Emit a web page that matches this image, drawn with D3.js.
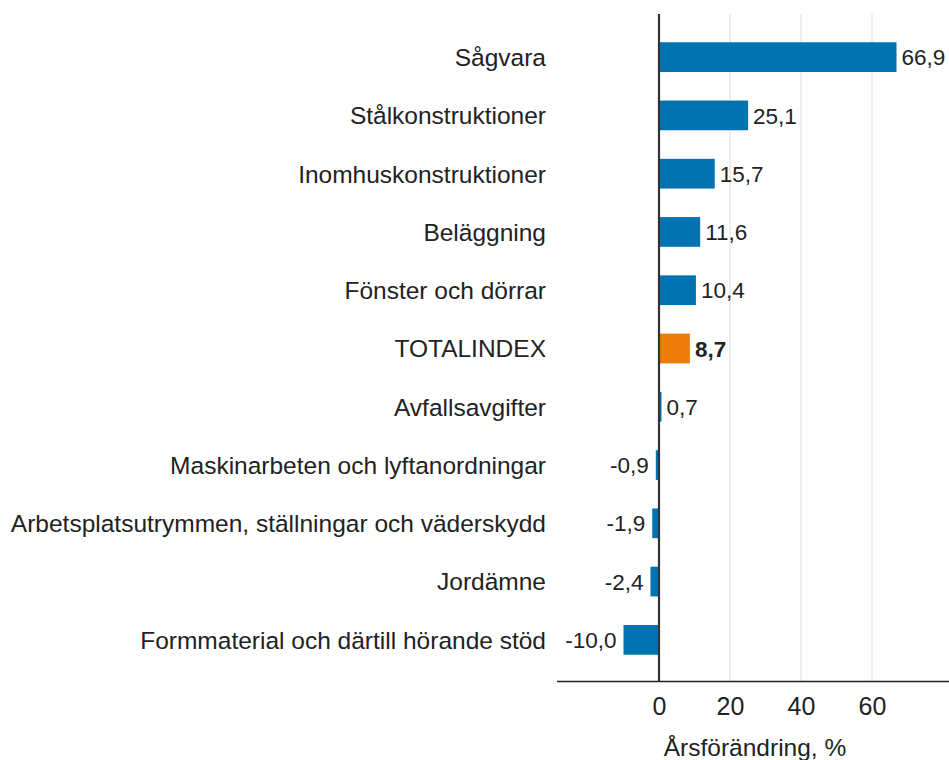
<!DOCTYPE html>
<html>
<head>
<meta charset="utf-8">
<script src="https://cdn.jsdelivr.net/npm/d3@7"></script>
<style>
  html, body { margin: 0; padding: 0; background: #fff; }
  svg { display: block; font-family: "Liberation Sans", Arial, sans-serif; }
</style>
</head>
<body>
<svg id="chart" width="949" height="760"></svg>
<script>
const categories = [
  "Sågvara",
  "Stålkonstruktioner",
  "Inomhuskonstruktioner",
  "Beläggning",
  "Fönster och dörrar",
  "TOTALINDEX",
  "Avfallsavgifter",
  "Maskinarbeten och lyftanordningar",
  "Arbetsplatsutrymmen, ställningar och väderskydd",
  "Jordämne",
  "Formmaterial och därtill hörande stöd"
];
const values = [66.9, 25.1, 15.7, 11.6, 10.4, 8.7, 0.7, -0.9, -1.9, -2.4, -10.0];
const highlight = "TOTALINDEX";
const tickValues = [0, 20, 40, 60];
const axisTitle = "Årsförändring, %";

const svg = d3.select("#chart");
const plotLeft = 557, plotRight = 949, plotTop = 14, plotBottom = 681;

const x = d3.scaleLinear().domain([0, 60]).range([659, 872]);
const y = d3.scaleBand().domain(categories).range([28, 669])
  .paddingInner(0.49).paddingOuter(0.245);

const fmt = v => v.toFixed(1).replace(".", ",");

// gridlines
svg.append("g").selectAll("line")
  .data(tickValues.filter(t => t !== 0))
  .join("line")
  .attr("x1", d => x(d)).attr("x2", d => x(d))
  .attr("y1", plotTop).attr("y2", plotBottom)
  .attr("stroke", "#e3e3e3").attr("stroke-width", 1.2);

// bars
svg.append("g").selectAll("rect")
  .data(categories)
  .join("rect")
  .attr("x", (d, i) => Math.min(x(0), x(values[i])))
  .attr("width", (d, i) => Math.abs(x(values[i]) - x(0)))
  .attr("y", d => y(d))
  .attr("height", y.bandwidth())
  .attr("fill", d => d === highlight ? "#ec7b08" : "#0073b0");

// value labels
svg.append("g").selectAll("text")
  .data(categories)
  .join("text")
  .attr("x", (d, i) => values[i] >= 0 ? x(values[i]) + 5 : x(values[i]) - 7)
  .attr("y", d => y(d) + y.bandwidth() / 2)
  .attr("dy", "0.36em")
  .attr("text-anchor", (d, i) => values[i] >= 0 ? "start" : "end")
  .attr("font-size", 22.5)
  .attr("font-weight", d => d === highlight ? "bold" : "normal")
  .attr("fill", "#222")
  .text((d, i) => fmt(values[i]));

// category labels
svg.append("g").selectAll("text")
  .data(categories)
  .join("text")
  .attr("x", 546)
  .attr("y", d => y(d) + y.bandwidth() / 2)
  .attr("dy", "0.36em")
  .attr("text-anchor", "end")
  .attr("font-size", 24.5)
  .attr("fill", "#222")
  .text(d => d);

// zero line
svg.append("line")
  .attr("x1", x(0)).attr("x2", x(0))
  .attr("y1", plotTop).attr("y2", plotBottom)
  .attr("stroke", "#333").attr("stroke-width", 2.2);

// x axis
const xAxis = d3.axisBottom(x).tickValues(tickValues).tickSize(0).tickPadding(16)
  .tickFormat(d3.format("d"));
const gx = svg.append("g").attr("transform", `translate(0,${plotBottom})`).call(xAxis);
gx.select(".domain").remove();
gx.selectAll("text").attr("font-size", 25).attr("fill", "#222")
  .attr("font-family", "'Liberation Sans', Arial, sans-serif");
svg.append("line")
  .attr("x1", plotLeft).attr("x2", plotRight)
  .attr("y1", plotBottom + 0.5).attr("y2", plotBottom + 0.5)
  .attr("stroke", "#222").attr("stroke-width", 1.5);

svg.append("text")
  .attr("x", (plotLeft + plotRight) / 2 + 2)
  .attr("y", 756)
  .attr("text-anchor", "middle")
  .attr("font-size", 24.5)
  .attr("fill", "#222")
  .text(axisTitle);
</script>
</body>
</html>
